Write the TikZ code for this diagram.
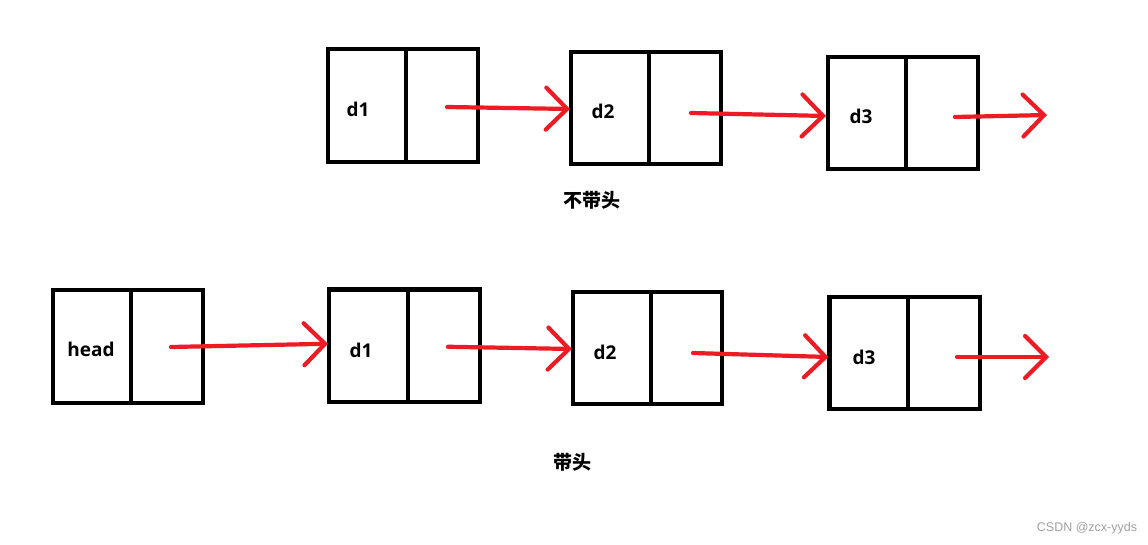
\documentclass[tikz,border=0pt]{standalone}
\usepackage{fontspec}
\setmainfont{Open Sans}
\newfontfamily\cjkfont{Noto Sans CJK SC}
\newfontfamily\wmfont{Liberation Sans}
\usetikzlibrary{arrows.meta,calc}
\definecolor{pred}{HTML}{ED1C24}
\definecolor{wmgray}{HTML}{A0A0A0}
\tikzset{
  cell/.style={draw=black, line width=4.8pt, rectangle, inner sep=0pt, outer sep=0pt, anchor=north west},
  lbl/.style={font=\fontsize{19}{19}\selectfont\bfseries, anchor=base, inner sep=0pt},
  cjk/.style={font=\cjkfont\fontsize{19}{19}\selectfont\bfseries, inner sep=0pt},
  link/.style={draw=pred, line width=4.2pt, line cap=round, line join=round,
    -{Straight Barb[length=21pt,width=42pt,line cap=round]}},
}
\newcommand{\mkbox}[6]{%
  % #1 name, #2 left, #3 divider, #4 right, #5 top, #6 bottom
  \node[cell, minimum width={#3-#2}, minimum height={#6-#5}] (#1L) at (#2,#5) {};
  \node[cell, minimum width={#4-#3}, minimum height={#6-#5}] (#1R) at (#3,#5) {};
}
\begin{document}
\begin{tikzpicture}[x=1pt,y=-1pt]
\useasboundingbox[fill=white] (0,0) rectangle (1148,545);
% top row
\mkbox{ta}{328}{406}{478}{49}{162}
\mkbox{tb}{571}{649}{721}{52}{164}
\mkbox{tc}{828}{906}{978}{57}{169}
\node[lbl] (tat) at (358,117) {d1};
\node[lbl] (tbt) at (603,119) {d2};
\node[lbl] (tct) at (861,124) {d3};
\coordinate (tend) at (1047,115);
\draw[link] ($(taR.center)+(5,1.5)$) -- ($(tbL.west)+(-1,1)$);
\draw[link] ($(tbR.center)+(6,5)$) -- ($(tcL.west)+(-2,3)$);
\draw[link] ($(tcR.center)+(13,4)$) -- (tend);
\node[cjk] (t1) at (592,200) {不带头};
% bottom row
\mkbox{bh}{53}{131}{203}{290}{403}
\mkbox{ba}{329}{408}{480}{289.5}{402}
\mkbox{bb}{573}{651}{722}{292}{404}
\mkbox{bc}{829.5}{908}{980}{297}{409}
\node[lbl] (bht) at (91,356) {head};
\node[lbl] (bat) at (361,357) {d1};
\node[lbl] (bbt) at (605,359) {d2};
\node[lbl] (bct) at (864,364) {d3};
\coordinate (bend) at (1049,357);
\draw[link] ($(bhR.center)+(4,0.5)$) -- ($(baL.west)+(-1,-2)$);
\draw[link] ($(baR.center)+(4,1)$) -- ($(bbL.west)+(-1,1)$);
\draw[link] ($(bbR.center)+(6.5,5)$) -- ($(bcL.west)+(-1,4)$);
\draw[link] ($(bcR.center)+(13,4)$) -- (bend);
\node[cjk] (t2) at (572,462) {带头};
\node[font=\wmfont\fontsize{12.5}{12.5}\selectfont, text=wmgray, inner sep=0pt] (wm) at (1087,528) {CSDN @zcx-yyds};
\end{tikzpicture}
\end{document}
